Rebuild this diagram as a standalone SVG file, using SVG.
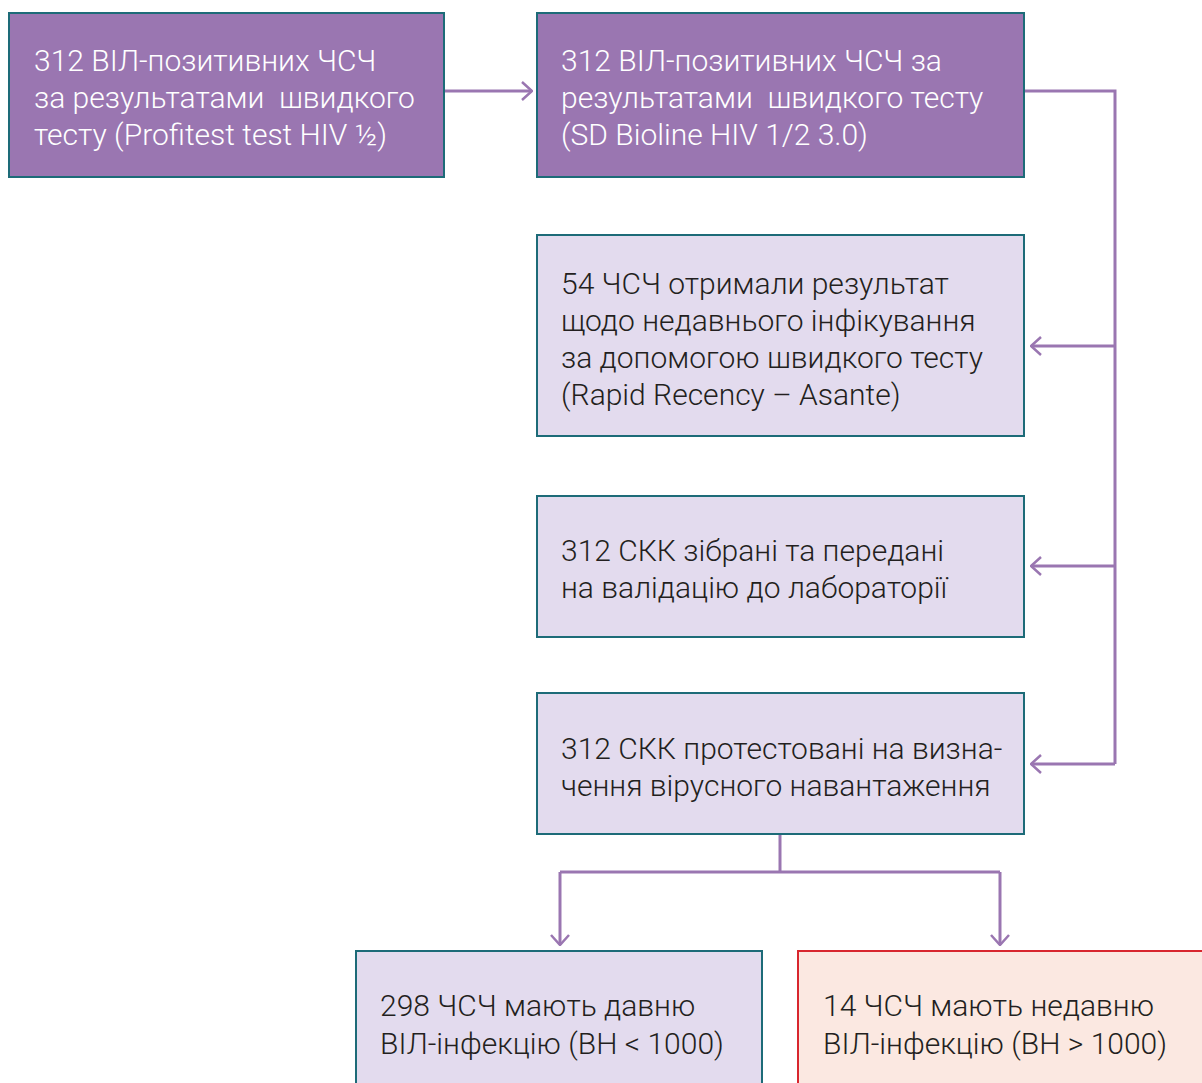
<svg xmlns="http://www.w3.org/2000/svg" width="1202" height="1083" viewBox="0 0 1202 1083">
<defs>
<style>
.dk{fill:#9a76b1;stroke:#1d6b78;stroke-width:2}
.lt{fill:#e3dbee;stroke:#1d6b78;stroke-width:2}
.rd{fill:#fbe8e1;stroke:#d8262e;stroke-width:2}
text{font-family:Roboto,"Open Sans","Liberation Sans",sans-serif;font-weight:300;font-size:30px;white-space:pre}
.w{fill:#ffffff}
.b{fill:#231f20}
.c{fill:none;stroke:#9a76b1;stroke-width:3}
</style>
<marker id="ah" viewBox="0 0 12 20" refX="11" refY="10" markerWidth="12" markerHeight="20" markerUnits="userSpaceOnUse" orient="auto">
<path d="M1 1 L11 10 L1 19" fill="none" stroke="#9a76b1" stroke-width="2.5"/>
</marker>
</defs>
<rect width="1202" height="1083" fill="#ffffff"/>
<g id="connectors">
<path class="c" d="M445 91 H532" marker-end="url(#ah)"/>
<path class="c" d="M1025 91 H1115 V764"/>
<path class="c" d="M1115 346 H1031" marker-end="url(#ah)"/>
<path class="c" d="M1115 566 H1031" marker-end="url(#ah)"/>
<path class="c" d="M1115 764 H1031" marker-end="url(#ah)"/>
<path class="c" d="M780 835 V872"/>
<path class="c" d="M560 872 H1000"/>
<path class="c" d="M560 872 V945" marker-end="url(#ah)"/>
<path class="c" d="M1000 872 V945" marker-end="url(#ah)"/>
</g>
<g id="n1">
<rect class="dk" x="9" y="13" width="435" height="164"/>
<text class="w" x="34" y="71">312 ВІЛ-позитивних ЧСЧ</text>
<text class="w" x="34" y="108" xml:space="preserve">за результатами  швидкого</text>
<text class="w" x="34" y="145">тесту (Profitest test HIV ½)</text>
</g>
<g id="n2">
<rect class="dk" x="537" y="13" width="487" height="164"/>
<text class="w" x="561" y="71">312 ВІЛ-позитивних ЧСЧ за</text>
<text class="w" x="561" y="108" xml:space="preserve">результатами  швидкого тесту</text>
<text class="w" x="561" y="145">(SD Bioline HIV 1/2 3.0)</text>
</g>
<g id="n3">
<rect class="lt" x="537" y="235" width="487" height="201"/>
<text class="b" x="561" y="294">54 ЧСЧ отримали результат</text>
<text class="b" x="561" y="331">щодо недавнього інфікування</text>
<text class="b" x="561" y="368">за допомогою швидкого тесту</text>
<text class="b" x="561" y="405">(Rapid Recency – Asante)</text>
</g>
<g id="n4">
<rect class="lt" x="537" y="496" width="487" height="141"/>
<text class="b" x="561" y="561">312 СКК зібрані та передані</text>
<text class="b" x="561" y="598">на валідацію до лабораторії</text>
</g>
<g id="n5">
<rect class="lt" x="537" y="693" width="487" height="141"/>
<text class="b" x="561" y="759">312 СКК протестовані на визна-</text>
<text class="b" x="561" y="796">чення вірусного навантаження</text>
</g>
<g id="n6">
<rect class="lt" x="356" y="951" width="406" height="140"/>
<text class="b" x="380" y="1016">298 ЧСЧ мають давню</text>
<text class="b" x="380" y="1054">ВІЛ-інфекцію (ВН &lt; 1000)</text>
</g>
<g id="n7">
<rect class="rd" x="798" y="951" width="410" height="140"/>
<text class="b" x="823" y="1016">14 ЧСЧ мають недавню</text>
<text class="b" x="823" y="1054">ВІЛ-інфекцію (ВН &gt; 1000)</text>
</g>
</svg>
